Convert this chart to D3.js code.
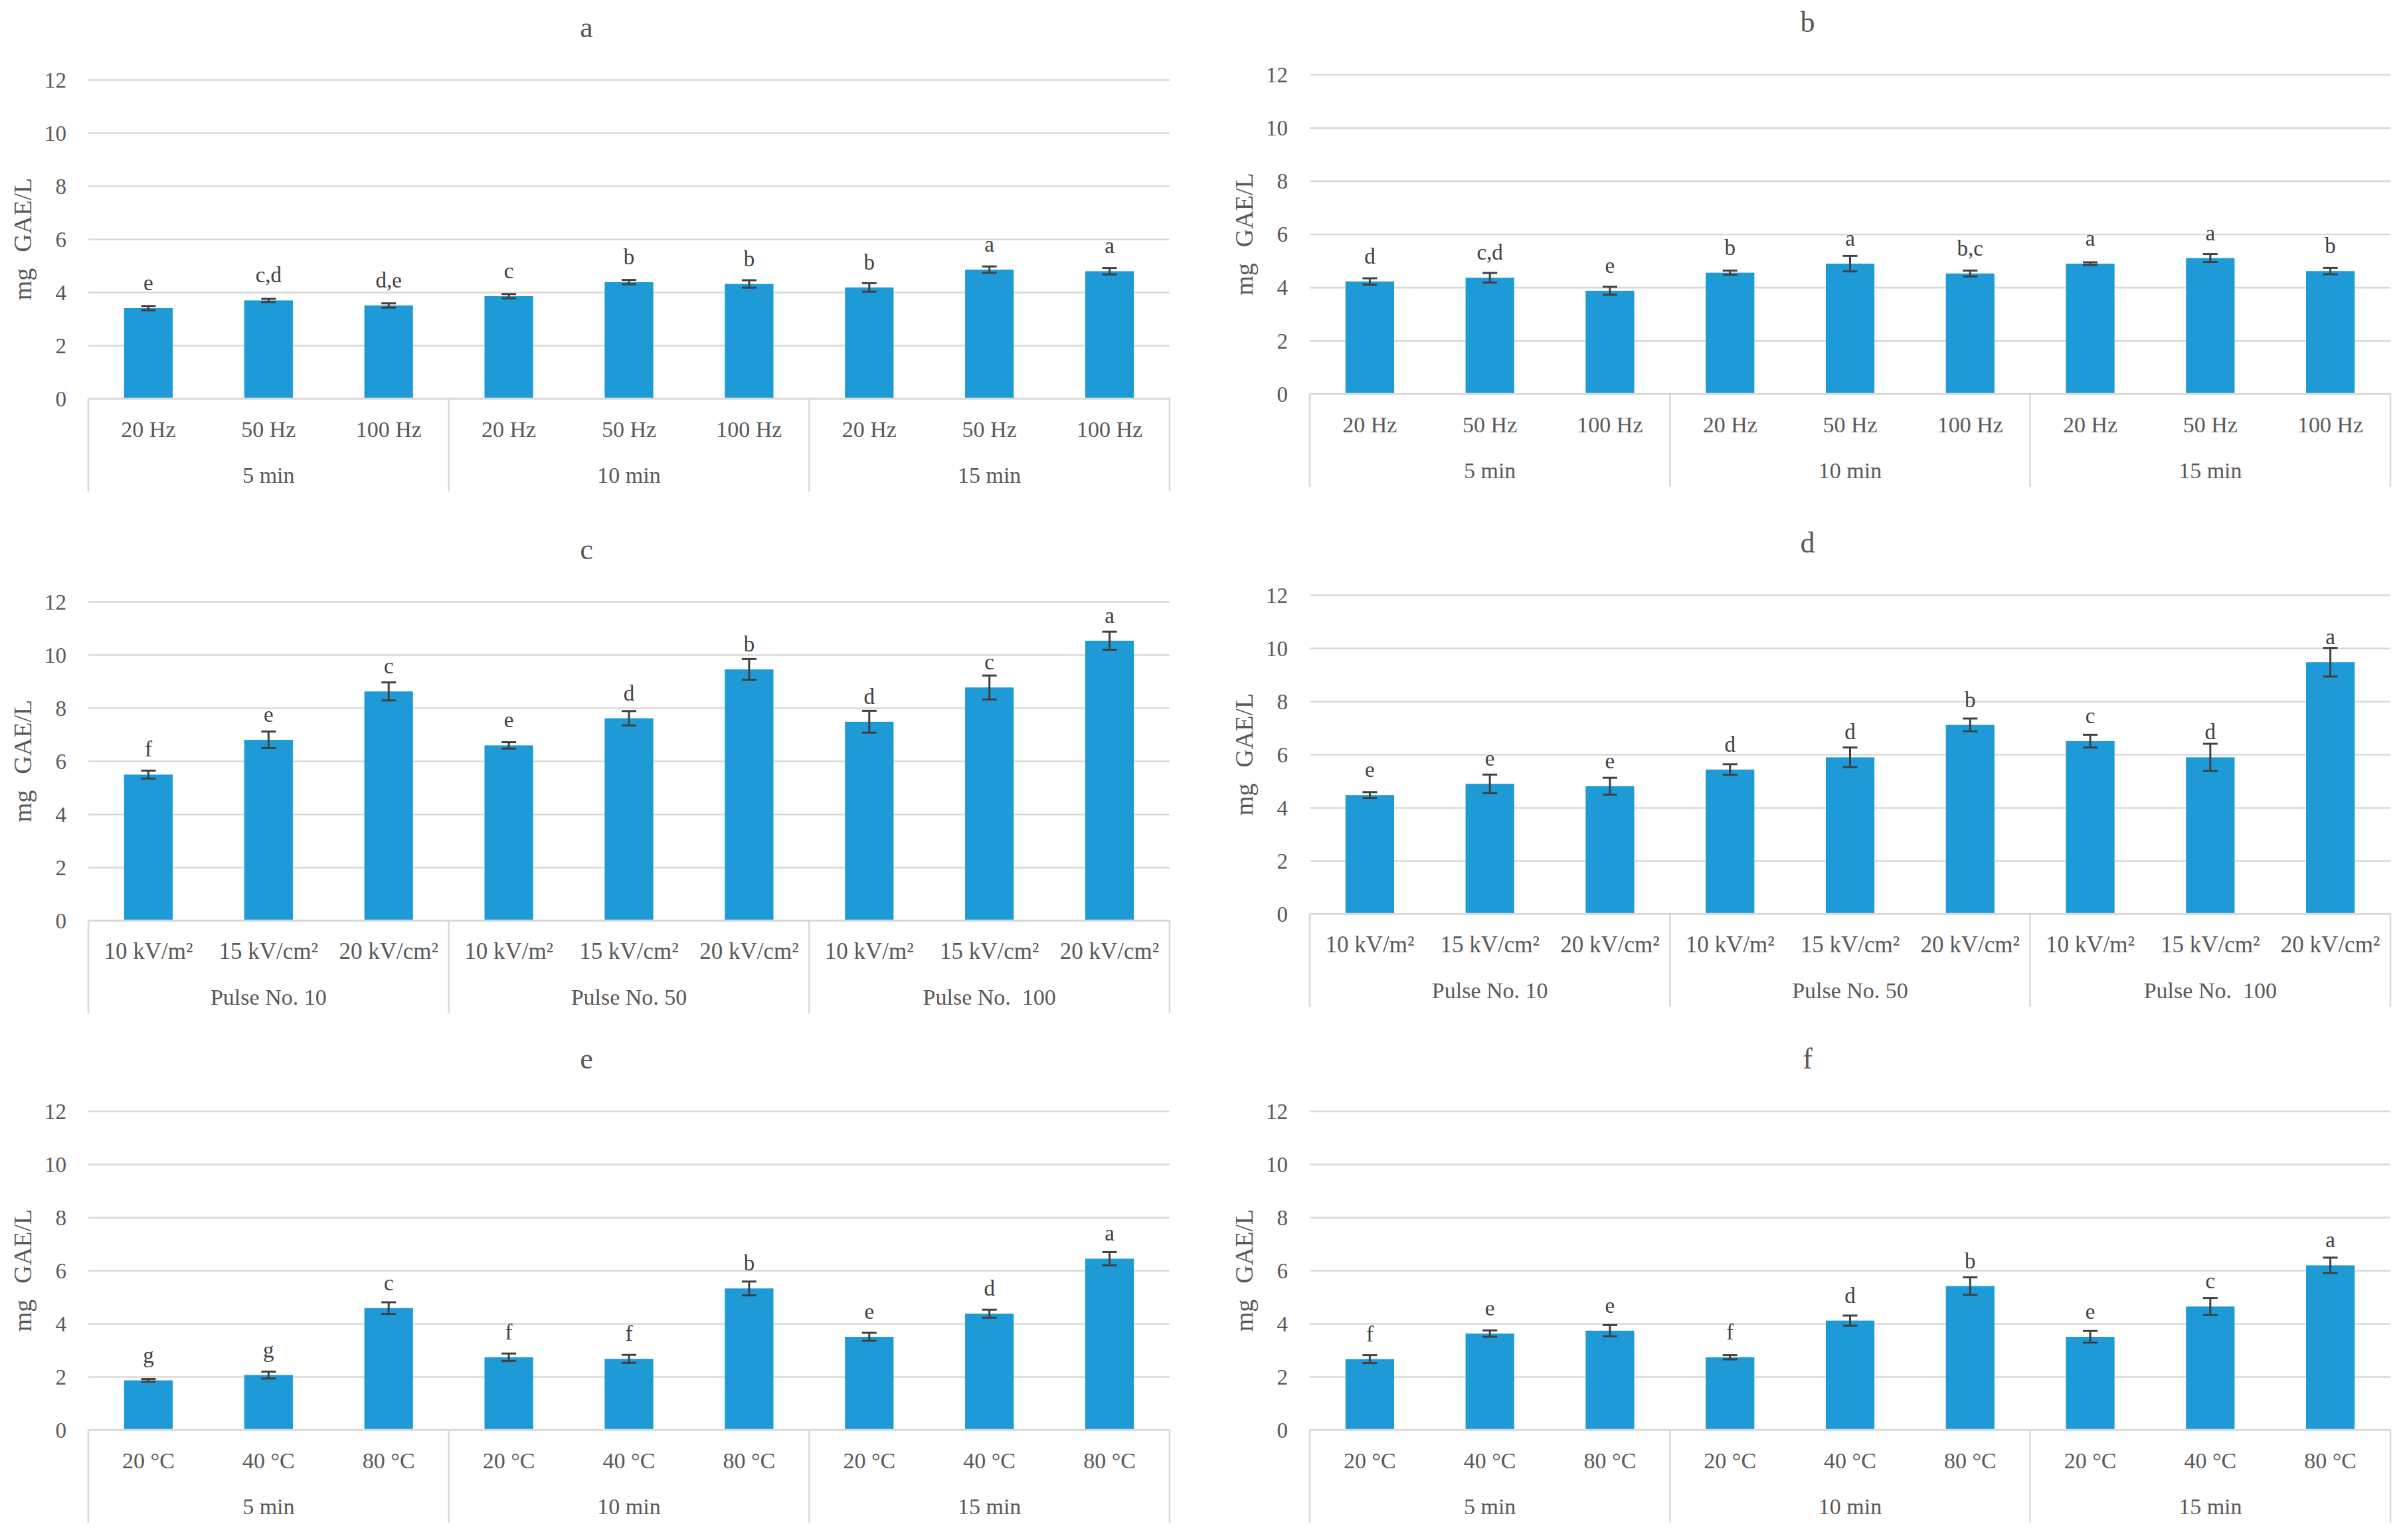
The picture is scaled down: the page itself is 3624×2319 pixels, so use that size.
<!DOCTYPE html>
<html>
<head>
<meta charset="utf-8">
<script src="https://cdn.jsdelivr.net/npm/d3@7/dist/d3.min.js"></script>
<style>
  html, body { margin: 0; padding: 0; background: #ffffff; }
  svg { display: block; }
  text { font-family: "Liberation Serif", "Times New Roman", serif; white-space: pre; }
</style>
</head>
<body>
<svg id="chart" width="3624" height="2319"></svg>
<script>
// ---------------- DATA ----------------
const panelTitles = ["a", "b", "c", "d", "e", "f"];
const yTicks = [0, 2, 4, 6, 8, 10, 12];

const timeGroups = ["5 min", "10 min", "15 min"];
const pulseGroups = ["Pulse No. 10", "Pulse No. 50", "Pulse No.  100"];

const freqLabels = ["20 Hz", "50 Hz", "100 Hz"];
const fieldLabels = ["10 kV/m²", "15 kV/cm²", "20 kV/cm²"];
const tempLabels = ["20 °C", "40 °C", "80 °C"];

const valuesA = [3.40, 3.69, 3.50, 3.85, 4.38, 4.31, 4.18, 4.85, 4.79];
const errorsA = [0.08, 0.06, 0.08, 0.08, 0.08, 0.14, 0.16, 0.12, 0.12];
const lettersA = ["e", "c,d", "d,e", "c", "b", "b", "b", "a", "a"];

const valuesB = [4.22, 4.36, 3.87, 4.55, 4.89, 4.52, 4.89, 5.10, 4.61];
const errorsB = [0.12, 0.18, 0.15, 0.08, 0.29, 0.11, 0.05, 0.15, 0.12];
const lettersB = ["d", "c,d", "e", "b", "a", "b,c", "a", "a", "b"];

const valuesC = [5.49, 6.80, 8.62, 6.59, 7.61, 9.45, 7.48, 8.77, 10.53];
const errorsC = [0.15, 0.31, 0.34, 0.12, 0.27, 0.39, 0.41, 0.45, 0.34];
const lettersC = ["f", "e", "c", "e", "d", "b", "d", "c", "a"];

const valuesD = [4.47, 4.89, 4.80, 5.43, 5.89, 7.11, 6.50, 5.89, 9.47];
const errorsD = [0.11, 0.35, 0.32, 0.20, 0.37, 0.24, 0.24, 0.51, 0.54];
const lettersD = ["e", "e", "e", "d", "d", "b", "c", "d", "a"];

const valuesE = [1.86, 2.06, 4.58, 2.73, 2.67, 5.32, 3.50, 4.37, 6.44];
const errorsE = [0.05, 0.13, 0.22, 0.14, 0.15, 0.26, 0.15, 0.15, 0.25];
const lettersE = ["g", "g", "c", "f", "f", "b", "e", "d", "a"];

const valuesF = [2.66, 3.62, 3.73, 2.73, 4.11, 5.41, 3.50, 4.64, 6.19];
const errorsF = [0.15, 0.12, 0.21, 0.08, 0.19, 0.33, 0.22, 0.32, 0.29];
const lettersF = ["f", "e", "e", "f", "d", "b", "e", "c", "a"];

const yAxisLabel = ["mg", "GAE/L"];

// ---------------- PANEL SETUP ----------------
const panelData = [
  { title: panelTitles[0], groups: timeGroups,  cats: freqLabels,  values: valuesA, errors: errorsA, letters: lettersA },
  { title: panelTitles[1], groups: timeGroups,  cats: freqLabels,  values: valuesB, errors: errorsB, letters: lettersB },
  { title: panelTitles[2], groups: pulseGroups, cats: fieldLabels, values: valuesC, errors: errorsC, letters: lettersC },
  { title: panelTitles[3], groups: pulseGroups, cats: fieldLabels, values: valuesD, errors: errorsD, letters: lettersD },
  { title: panelTitles[4], groups: timeGroups,  cats: tempLabels,  values: valuesE, errors: errorsE, letters: lettersE },
  { title: panelTitles[5], groups: timeGroups,  cats: tempLabels,  values: valuesF, errors: errorsF, letters: lettersF }
];

// layout (positions only)
const frames = [
  { left: 133,  right: 1761, y0: 600,  y12: 120,  catSize: 34 },
  { left: 1972, right: 3599, y0: 593,  y12: 112,  catSize: 34 },
  { left: 133,  right: 1761, y0: 1386, y12: 906,  catSize: 35 },
  { left: 1972, right: 3599, y0: 1376, y12: 896,  catSize: 35 },
  { left: 133,  right: 1761, y0: 2153, y12: 1673, catSize: 34 },
  { left: 1972, right: 3599, y0: 2153, y12: 1673, catSize: 34 }
];

const BAR = "#1E9BD7";
const GRID = "#d9d9d9";
const TXT = "#595959";
const DARK = "#404040";

const svg = d3.select("#chart");
svg.append("rect").attr("width", 3624).attr("height", 2319).attr("fill", "#ffffff");

panelData.forEach((p, i) => {
  const f = frames[i];
  const g = svg.append("g");

  // composite keys: group|category
  const keys = [];
  p.groups.forEach(gr => p.cats.forEach(c => keys.push(gr + "|" + c)));
  const rows = keys.map((k, j) => ({ key: k, group: k.split("|")[0], cat: k.split("|")[1],
                                     v: p.values[j], e: p.errors[j], l: p.letters[j] }));

  const x = d3.scaleBand().domain(keys).range([f.left, f.right])
              .paddingInner(0.595).paddingOuter(0.2975);
  const xg = d3.scaleBand().domain(p.groups).range([f.left, f.right]).padding(0);
  const y = d3.scaleLinear().domain([0, 12]).range([f.y0, f.y12]);

  // gridlines (y axis)
  const yAxis = d3.axisLeft(y).tickValues(yTicks).tickSize(-(f.right - f.left)).tickPadding(33)
                  .tickFormat(d3.format("d"));
  const ya = g.append("g").attr("transform", `translate(${f.left},0)`).call(yAxis);
  ya.select(".domain").remove();
  ya.selectAll(".tick line").attr("stroke", GRID).attr("stroke-width", 2.6);
  ya.selectAll(".tick text").attr("fill", TXT).attr("font-size", 33)
    .attr("font-family", '"Liberation Serif", serif').attr("dy", "0.34em").attr("x", -33);

  // title
  g.append("text").attr("x", (f.left + f.right) / 2 - 64).attr("y", f.y12 - 64)
    .attr("text-anchor", "middle").attr("fill", TXT).attr("font-size", 44).text(p.title);

  // y axis label
  const yl = g.append("text")
    .attr("transform", `translate(${f.left - 86},${(f.y0 + f.y12) / 2}) rotate(-90)`)
    .attr("text-anchor", "middle").attr("fill", TXT).attr("font-size", 38);
  yl.append("tspan").text(yAxisLabel[0]);
  yl.append("tspan").attr("dx", 24).text(yAxisLabel[1]);

  // bars
  g.selectAll("rect.bar").data(rows).join("rect").attr("class", "bar")
    .attr("x", d => x(d.key)).attr("width", x.bandwidth())
    .attr("y", d => y(d.v)).attr("height", d => y(0) - y(d.v))
    .attr("fill", BAR);

  // x axis line (category axis)
  const xa = d3.axisBottom(x).tickSize(0).tickFormat(k => k.split("|")[1]).tickPadding(0);
  const xag = g.append("g").attr("transform", `translate(0,${f.y0})`).call(xa);
  xag.select(".domain").attr("stroke", GRID).attr("stroke-width", 2.6)
     .attr("d", `M${f.left},0H${f.right}`);
  xag.selectAll(".tick text").attr("fill", TXT).attr("font-size", f.catSize)
     .attr("font-family", '"Liberation Serif", serif').attr("dy", 0).attr("y", 58);

  // group separators
  const bounds = p.groups.map(gr => xg(gr)).concat([f.right]);
  g.selectAll("line.sep").data(bounds).join("line").attr("class", "sep")
    .attr("x1", d => d).attr("x2", d => d).attr("y1", f.y0).attr("y2", f.y0 + 140)
    .attr("stroke", GRID).attr("stroke-width", 2.6);

  // group labels
  g.selectAll("text.grp").data(p.groups).join("text").attr("class", "grp")
    .attr("x", d => xg(d) + xg.bandwidth() / 2).attr("y", f.y0 + 127)
    .attr("text-anchor", "middle").attr("fill", TXT).attr("font-size", 34).text(d => d);

  // error bars
  const cap = 11;
  const eb = g.selectAll("g.err").data(rows).join("g").attr("class", "err")
    .attr("stroke", DARK).attr("stroke-width", 3);
  eb.append("line").attr("x1", d => x(d.key) + x.bandwidth() / 2).attr("x2", d => x(d.key) + x.bandwidth() / 2)
    .attr("y1", d => y(d.v + d.e)).attr("y2", d => y(d.v - d.e));
  eb.append("line").attr("x1", d => x(d.key) + x.bandwidth() / 2 - cap).attr("x2", d => x(d.key) + x.bandwidth() / 2 + cap)
    .attr("y1", d => y(d.v + d.e)).attr("y2", d => y(d.v + d.e));
  eb.append("line").attr("x1", d => x(d.key) + x.bandwidth() / 2 - cap).attr("x2", d => x(d.key) + x.bandwidth() / 2 + cap)
    .attr("y1", d => y(d.v - d.e)).attr("y2", d => y(d.v - d.e));

  // significance letters
  g.selectAll("text.let").data(rows).join("text").attr("class", "let")
    .attr("x", d => x(d.key) + x.bandwidth() / 2).attr("y", d => y(d.v) - 27)
    .attr("text-anchor", "middle").attr("fill", DARK).attr("font-size", 33).text(d => d.l);
});
</script>
</body>
</html>
